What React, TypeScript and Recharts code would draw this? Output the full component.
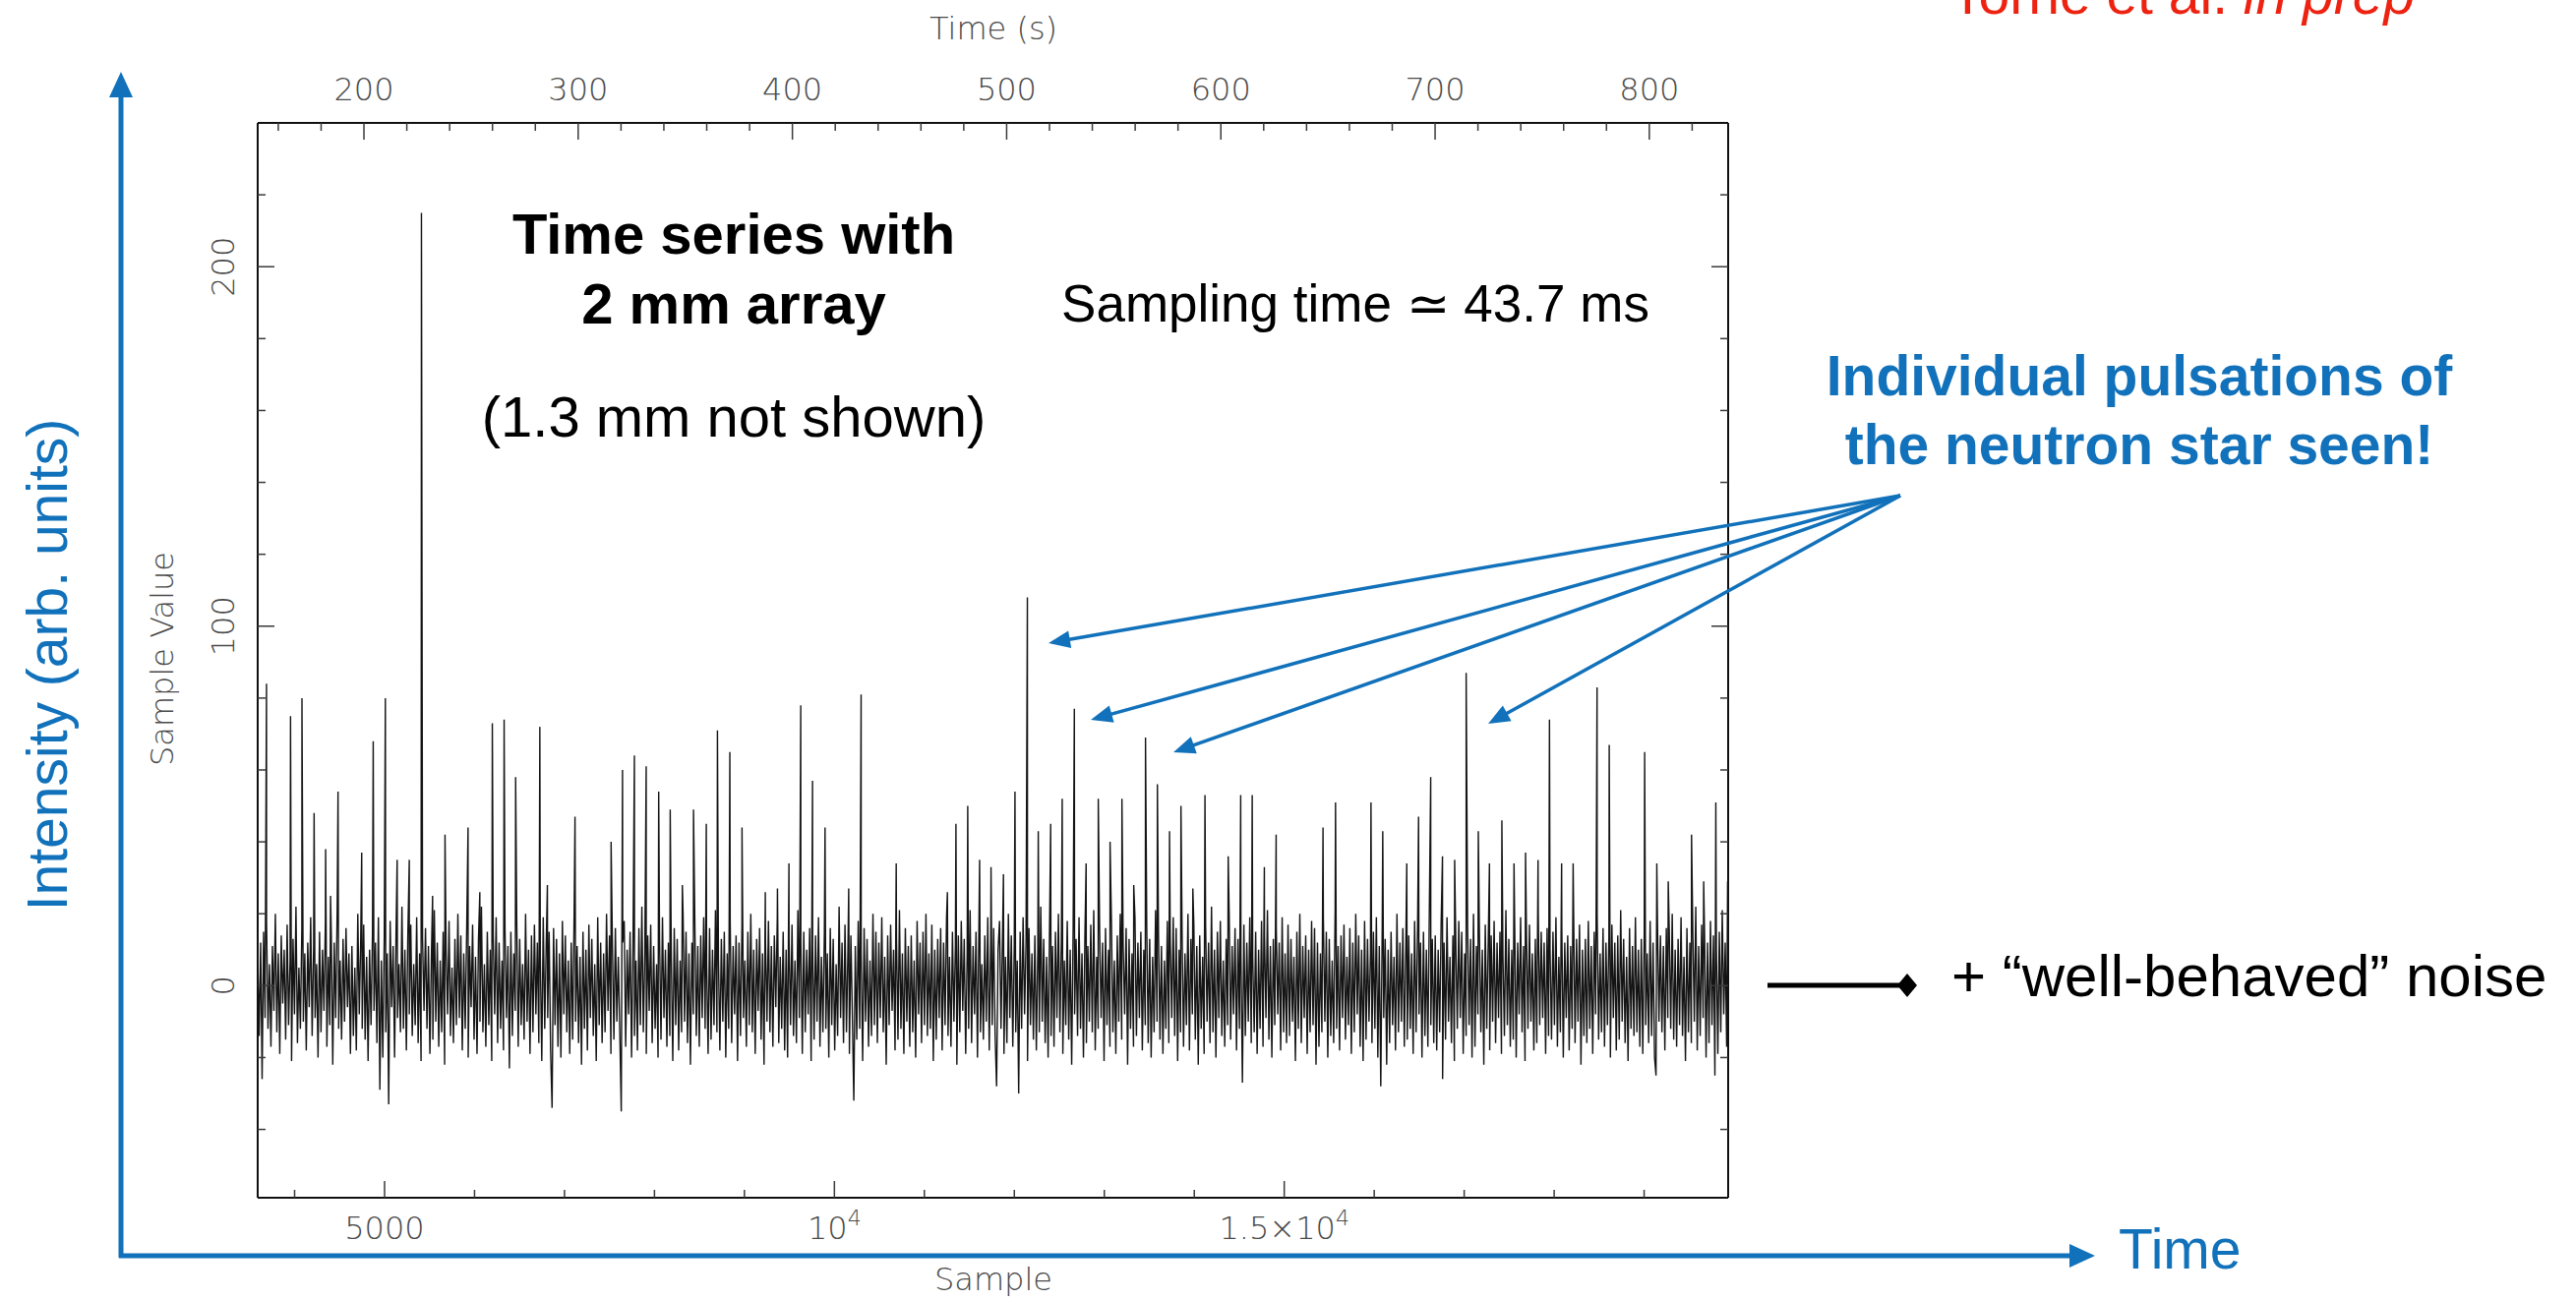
import React from 'react'
import { ComposedChart, Line, XAxis, YAxis } from 'recharts'

const WIDTH = 2619
const HEIGHT = 1322

const SAMPLE_DOMAIN: [number, number] = [3590, 19934]
const TIME_DOMAIN: [number, number] = [150.4, 836.8]
const VALUE_DOMAIN: [number, number] = [-59, 240]

const sampleTicks = [4000, 5000, 6000, 7000, 8000, 9000, 10000, 11000, 12000, 13000, 14000, 15000, 16000, 17000, 18000, 19000]
const sampleLabels: Record<number, [string, string]> = {
  5000: ['5000', ''],
  10000: ['10', '4'],
  15000: ['1.5×10', '4'],
}
const timeTicks = [160, 180, 200, 220, 240, 260, 280, 300, 320, 340, 360, 380, 400, 420, 440, 460, 480, 500, 520, 540, 560, 580, 600, 620, 640, 660, 680, 700, 720, 740, 760, 780, 800, 820]
const timeMajor = [200, 300, 400, 500, 600, 700, 800]
const valueTicks = [-40, -20, 0, 20, 40, 60, 80, 100, 120, 140, 160, 180, 200, 220]
const valueMajor = [0, 100, 200]

// bright single-sample pulses riding on the noise
const spikeSamples = [
  3688, 3955, 4082, 4217, 4345, 4400, 4483, 4746, 4874, 5009, 5140, 5275, 5410, 5534, 5672, 5928, 6059, 6198, 6329, 6457,
  6726, 6810, 7117, 7518, 7645, 7777, 7908, 8047, 8175, 8310, 8434, 8576, 8700, 8838, 8973, 9232, 9367, 9495, 9626, 9757,
  9896, 10159, 10297, 10687, 11256, 11351, 11482, 11614, 11741, 11879, 12007, 12145, 12266, 12404, 12532, 12667, 12798, 12933, 13064, 13196,
  13327, 13458, 13590, 13725, 13852, 13984, 14119, 14377, 14516, 14644, 14779, 14910, 15431, 15570, 15964, 16095, 16362, 16493, 16628, 16759,
  16894, 17022, 17157, 17281, 17419, 17554, 17682, 17821, 17948, 18083, 18211, 18477, 18612, 19006, 19141, 19268, 19527, 19662, 19797, 19928,
]
const spikeValues = [
  84, 75, 80, 48, 38, 25, 54, 37, 68, 80, 35, 35, 215, 25, 42, 44, 26, 73, 74, 58,
  72, 28, 47, 40, 60, 64, 61, 54, 49, 28, 49, 45, 71, 65, 44, 26, 27, 34, 78, 57,
  44, 27, 81, 34, 26, 45, 50, 35, 33, 31, 54, 108, 43, 45, 52, 77, 34, 52, 40, 52,
  28, 69, 56, 43, 50, 27, 53, 36, 53, 53, 33, 42, 44, 51, 51, 43, 34, 47, 58, 36,
  35, 87, 43, 34, 46, 34, 37, 35, 74, 34, 34, 83, 67, 65, 34, 29, 42, 29, 51, 29,
]

// receiver noise, evenly spaced across the sample range
const noise = [
  8, -14, 12, -26, 15, -9, 18, -12, 6, -17, 11, -7, 20, -13, 9, -19, 14, -5, 10, -15,
  17, -11, 7, -21, 13, -8, 22, -16, 5, -12, 16, -10, 9, -18, 12, -6, 19, -14, 11, -9,
  6, -20, 15, -13, 10, -7, 18, -17, 8, -11, 14, -22, 12, -9, 21, -12, 7, -15, 13, -10,
  16, -6, 9, -19, 11, -14, 5, -18, 20, -8, 13, -12, 17, -15, 8, -21, 10, -11, 15, -7,
  12, -16, 19, -29, 7, -20, 14, -13, 9, -33, 18, -6, 11, -20, 15, -9, 6, -13, 22, -12,
  10, -18, 14, -8, 17, -14, 6, -11, 19, -16, 9, -21, 13, -7, 16, -12, 11, -19, 8, -15,
  21, -10, 12, -17, 7, -13, 15, -22, 10, -8, 18, -14, 5, -16, 13, -11, 20, -9, 14, -18,
  9, -12, 16, -20, 11, -6, 17, -15, 8, -19, 13, -10, 22, -13, 6, -17, 15, -11, 10, -21,
  14, -8, 19, -16, 12, -12, 7, -18, 16, -9, 11, -23, 15, -14, 9, -7, 18, -17, 13, -11,
  6, -15, 20, -10, 10, -19, 14, -13, 17, -8, 12, -16, 8, -21, 19, -12, 11, -9, 15, -18,
  -34, 16, -11, 13, -17, 9, -20, 18, -8, 14, -13, 7, -19, 12, -15, 21, -10, 11, -16, 8,
  -22, 15, -12, 10, -18, 17, -9, 13, -14, 6, -21, 19, -11, 12, -16, 9, -13, 20, -7, 14,
  -19, 11, -15, 16, -10, 8, -13, -35, 12, 18, -17, 10, -8, 15, -20, 12, -14, 7, -18, 16,
  -11, 22, -13, 9, -19, 14, -7, 17, -16, 11, -12, 6, -20, 13, -15, 19, -9, 10, -17, 12,
  -14, 8, -21, 16, -11, 13, -18, 7, -13, 20, -10, 15, -16, 9, -22, 12, -8, 17, -14, 11,
  -17, 14, -9, 19, -12, 6, -19, 16, -15, 10, -11, 21, -13, 8, -18, 13, -10, 15, -20, 9,
  -12, 18, -16, 11, -8, 14, -21, 12, -14, 17, -9, 7, -17, 15, -11, 20, -13, 10, -19, 13,
  -7, 16, -15, 9, -22, 12, -10, 18, -13, 11, -17, 14, -6, 19, -16, 8, -12, 15, -18, 10,
  -20, 13, -11, 17, -14, 7, -16, 21, -9, 12, -19, 15, -13, 10, -8, 16, -21, 11, -15, 14,
  -10, 19, -17, 8, -13, 15, -12, 9, -20, 16, -11, 13, -18, 6, -14, 22, -9, 12, -16, 17,
  -13, 10, -19, 14, -8, -32, 11, -15, 18, -12, 9, -21, 16, -10, 13, -17, 7, -14, 20, -11,
  15, -16, 12, -9, 19, -13, 8, -22, 14, -11, 17, -7, 10, -18, 13, -15, 21, -12, 9, -19,
  16, -10, 11, -17, 14, -13, 7, -20, 18, -8, 12, -16, 15, -11, 20, -14, 9, -12, 17, -21,
  10, -15, 13, -9, 16, -18, 12, -11, 19, -14, 8, -17, 15, -10, 11, -22, 14, -13, 18, -7,
  13, -19, 9, -12, 21, -16, 11, -8, 15, -20, 17, -13, 6, -15, 14, -10, 19, -18, 12, -11,
  16, -14, -28, 10, 18, -12, 13, -19, 8, -16, 20, -9, 14, -17, 11, -13, 7, -30, 15, -12,
  19, -8, 12, -21, 16, -11, 9, -15, 14, -18, 10, -13, 22, -10, 13, -16, 8, -20, 17, -14,
  11, -17, 15, -9, 20, -13, 12, -19, 7, -11, 18, -15, 10, -22, 16, -8, 13, -14, 19, -12,
  9, -20, 14, -16, 11, -10, 17, -13, 21, -18, 8, -12, 15, -9, 12, -21, 16, -11, 10, -17,
  18, -13, 7, -19, 14, -10, 20, -15, 11, -8, 16, -22, 13, -12, 9, -17, 19, -14, 12, -9,
  15, -18, 10, -11, 17, -16, 13, -20, 8, -13, 21, -10, 14, -15, 11, -19, 7, -12, 18, -16,
  12, -9, 19, -14, 16, -21, 10, -13, 15, -17, 9, -11, 20, -18, 13, -8, 17, -15, 11, -22,
  14, -12, 8, -19, 17, -10, 12, -16, 22, -13, 10, -20, 15, -9, 18, -14, 7, -17, 13, -11,
  20, -15, 11, -8, 16, -18, 13, -12, 9, -27, 17, -14, 12, -10, 19, -16, 8, -13, 15, -19,
  10, -12, 18, -17, 14, -9, 21, -15, 11, -20, 13, -11, 16, -8, 12, -18, 19, -13, 9, -16,
  17, -14, 13, -10, 8, -21, 15, -12, 20, -16, 11, -9, 14, -19, 10, -13, 18, -11, 16, -22,
  12, -17, 9, -13, 19, -10, 15, -20, 13, -14, 7, -16, 21, -12, 11, -18, 14, -9, 17, -15,
  8, -11, 16, -19, 12, -13, 20, -8, 14, -17, 10, -21, 18, -15, 13, -10, 9, -16, 15, -12,
  19, -20, 11, -28, 17, -9, 13, -22, 10, -16, 15, -11, 8, -18, 20, -13, 12, -10, 16, -17,
  11, -15, 14, -12, 9, -19, 18, -13, 16, -8, 12, -20, 15, -14, 10, -17, 21, -11, 13, -16,
  14, -18, 10, -13, 17, -26, 12, -15, 19, -10, 8, -16, 14, -21, 11, -12, 18, -9, 15, -19,
  9, -14, 16, -11, 13, -20, 20, -17, 11, -8, 15, -13, 10, -22, 17, -12, 12, -18, 14, -10,
  18, -16, 12, -9, 15, -19, 8, -14, 21, -11, 13, -17, 10, -15, 16, -20, 12, -8, 19, -13,
  11, -21, 14, -12, 17, -10, 9, -18, 13, -16, 20, -11, 15, -9, 12, -19, 16, -14, 10, -15,
  15, -11, 19, -17, 8, -13, 16, -20, 12, -9, 14, -18, 11, -12, 21, -16, 13, -10, 17, -22,
  10, -14, 13, -16, 18, -12, 11, -19, 15, -8, 20, -15, 9, -13, 16, -17, 12, -11, 14, -20,
  17, -9, 12, -18, 14, -15, 21, -10, 13, -16, 8, -21, 16, -12, 11, -14, 19, -13, 10, -17,
  13, -19, 15, -11, 9, -16, 18, -14, 12, -20, -25, 17, -10, 14, -13, 11, -18, 16, -9, 15,
  -12, 20, -15, 10, -17, 13, -11, 19, -14, 8, -21, 16, -13, 12, -16, 15, -10, 22, -18, 11,
  -14, 17, -9, 13, -20, 12, -16, 18, -11, 14, -25, 10, -19, 15, -13, 21, -8, 12, -17, 14,
]

// seconds per sample implied by the two axis ranges
const secondsPerSample = (TIME_DOMAIN[1] - TIME_DOMAIN[0]) / (SAMPLE_DOMAIN[1] - SAMPLE_DOMAIN[0])
const toTime = (sample: number) => TIME_DOMAIN[0] + (sample - SAMPLE_DOMAIN[0]) * secondsPerSample

const noiseStep = (SAMPLE_DOMAIN[1] - SAMPLE_DOMAIN[0]) / (noise.length - 1)
const series = [
  ...noise.map((value, i) => ({ sample: SAMPLE_DOMAIN[0] + i * noiseStep, value })),
  ...spikeSamples.map((sample, i) => ({ sample, value: spikeValues[i] })),
]
  .sort((a, b) => a.sample - b.sample)
  .map((d) => ({ ...d, time: toTime(d.sample) }))

const BLUE = '#1171BA'
const RED = '#EE2211'
const AXIS_FONT = "'DejaVu Sans', sans-serif"
const TEXT_FONT = "'Liberation Sans', Arial, sans-serif"
const TICK_COLOR = '#3a3a3a'
const FRAME = { stroke: '#111', strokeWidth: 2 }

const labelStyle = { fontFamily: AXIS_FONT, fontWeight: 200, fontSize: 32, fill: '#4a4a4a' }

function BottomTick({ x, y, payload }: any) {
  const label = sampleLabels[payload.value]
  return (
    <g>
      <line x1={x} x2={x} y1={y} y2={y - (label ? 17 : 8)} stroke={TICK_COLOR} strokeWidth={1.5} />
      {label && (
        <text x={x} y={y + 42} textAnchor="middle" {...labelStyle}>
          {label[0]}
          {label[1] && <tspan dy={-14} fontSize={22}>{label[1]}</tspan>}
        </text>
      )}
    </g>
  )
}

function TopTick({ x, y, payload }: any) {
  const major = timeMajor.includes(payload.value)
  return (
    <g>
      <line x1={x} x2={x} y1={y} y2={y + (major ? 17 : 8)} stroke={TICK_COLOR} strokeWidth={1.5} />
      {major && (
        <text x={x} y={y - 23} textAnchor="middle" {...labelStyle}>{payload.value}</text>
      )}
    </g>
  )
}

function LeftTick({ x, y, payload }: any) {
  const major = valueMajor.includes(payload.value)
  return (
    <g>
      <line x1={x} x2={x + (major ? 17 : 8)} y1={y} y2={y} stroke={TICK_COLOR} strokeWidth={1.5} />
      {major && (
        <text x={x - 24} y={y} textAnchor="middle" transform={`rotate(-90 ${x - 24} ${y})`} {...labelStyle}>
          {payload.value}
        </text>
      )}
    </g>
  )
}

function RightTick({ x, y, payload }: any) {
  const major = valueMajor.includes(payload.value)
  return <line x1={x} x2={x - (major ? 17 : 8)} y1={y} y2={y} stroke={TICK_COLOR} strokeWidth={1.5} />
}

function Arrow({ from, to, color, width, head, half }: { from: [number, number]; to: [number, number]; color: string; width: number; head: number; half: number }) {
  const dx = to[0] - from[0]
  const dy = to[1] - from[1]
  const len = Math.hypot(dx, dy)
  const ux = dx / len
  const uy = dy / len
  const bx = to[0] - ux * head
  const by = to[1] - uy * head
  const pts = `${to[0]},${to[1]} ${bx - uy * half},${by + ux * half} ${bx + uy * half},${by - ux * half}`
  return (
    <g>
      <line x1={from[0]} y1={from[1]} x2={bx + ux * 2} y2={by + uy * 2} stroke={color} strokeWidth={width} />
      <polygon points={pts} fill={color} />
    </g>
  )
}

const pulseArrowTips: [number, number][] = [[1066, 654], [1109, 732], [1193, 765], [1513, 736]]

function Annotations() {
  return (
    <svg width={WIDTH} height={HEIGHT} style={{ position: 'absolute', left: 0, top: 0, pointerEvents: 'none' }}>
      <text x={1983} y={14} fontFamily={TEXT_FONT} fontSize={57} fill={RED}>
        Torne et al. <tspan fontStyle="italic">in prep</tspan>
      </text>

      {/* big intensity / time axes */}
      <Arrow from={[123, 1279]} to={[123, 73]} color={BLUE} width={5} head={26} half={12} />
      <Arrow from={[121, 1277]} to={[2130, 1277]} color={BLUE} width={5} head={26} half={12} />
      <text x={2154} y={1290} fontFamily={TEXT_FONT} fontSize={57} fill={BLUE}>Time</text>
      <text x={68} y={676} textAnchor="middle" transform="rotate(-90 68 676)" fontFamily={TEXT_FONT} fontSize={57} fill={BLUE}>
        Intensity (arb. units)
      </text>

      {/* axis titles */}
      <text x={1010} y={40} textAnchor="middle" {...labelStyle}>Time (s)</text>
      <text x={1010} y={1312} textAnchor="middle" {...labelStyle}>Sample</text>
      <text x={176} y={670} textAnchor="middle" transform="rotate(-90 176 670)" {...labelStyle}>Sample Value</text>

      {/* in-plot notes */}
      <text x={746} y={258} textAnchor="middle" fontFamily={TEXT_FONT} fontWeight={700} fontSize={58} fill="#000">Time series with</text>
      <text x={746} y={329} textAnchor="middle" fontFamily={TEXT_FONT} fontWeight={700} fontSize={58} fill="#000">2 mm array</text>
      <text x={746} y={444} textAnchor="middle" fontFamily={TEXT_FONT} fontSize={58} fill="#000">(1.3 mm not shown)</text>
      <text x={1378} y={327} textAnchor="middle" fontFamily={TEXT_FONT} fontSize={53} fill="#000">Sampling time ≃ 43.7 ms</text>

      <text x={2175} y={402} textAnchor="middle" fontFamily={TEXT_FONT} fontWeight={700} fontSize={57} fill={BLUE}>Individual pulsations of</text>
      <text x={2175} y={472} textAnchor="middle" fontFamily={TEXT_FONT} fontWeight={700} fontSize={57} fill={BLUE}>the neutron star seen!</text>
      {pulseArrowTips.map((tip, i) => (
        <Arrow key={i} from={[1932, 504]} to={tip} color={BLUE} width={3.5} head={22} half={9} />
      ))}

      <line x1={1797} x2={1932} y1={1002} y2={1002} stroke="#000" strokeWidth={5} />
      <polygon points="1929,1002 1939,990 1949,1002 1939,1014" fill="#000" />
      <text x={1984} y={1013} fontFamily={TEXT_FONT} fontSize={60} fill="#000">+ “well-behaved” noise</text>
    </svg>
  )
}

export default function App() {
  return (
    <div style={{ position: 'absolute', left: 0, top: 0, width: WIDTH, height: HEIGHT, background: '#fff' }}>
      <ComposedChart
        width={WIDTH}
        height={HEIGHT}
        data={series}
        margin={{ top: 65, right: 852, bottom: 44, left: 142 }}
      >
        <XAxis
          xAxisId="sample"
          dataKey="sample"
          type="number"
          orientation="bottom"
          domain={SAMPLE_DOMAIN}
          allowDataOverflow
          ticks={sampleTicks}
          interval={0}
          tick={BottomTick}
          tickLine={false}
          tickSize={0}
          tickMargin={0}
          axisLine={FRAME}
          height={60}
        />
        <XAxis
          xAxisId="time"
          dataKey="time"
          type="number"
          orientation="top"
          domain={TIME_DOMAIN}
          allowDataOverflow
          ticks={timeTicks}
          interval={0}
          tick={TopTick}
          tickLine={false}
          tickSize={0}
          tickMargin={0}
          axisLine={FRAME}
          height={60}
        />
        <YAxis
          yAxisId="left"
          type="number"
          domain={VALUE_DOMAIN}
          allowDataOverflow
          ticks={valueTicks}
          interval={0}
          tick={LeftTick}
          tickLine={false}
          tickSize={0}
          tickMargin={0}
          axisLine={FRAME}
          width={120}
        />
        <YAxis
          yAxisId="right"
          type="number"
          orientation="right"
          domain={VALUE_DOMAIN}
          allowDataOverflow
          ticks={valueTicks}
          interval={0}
          tick={RightTick}
          tickLine={false}
          tickSize={0}
          tickMargin={0}
          axisLine={FRAME}
          width={10}
        />
        {/* same trace on the time/right axes, unstroked, so those scales carry data */}
        <Line
          xAxisId="time"
          yAxisId="right"
          dataKey="value"
          type="linear"
          stroke="none"
          dot={false}
          activeDot={false}
          isAnimationActive={false}
        />
        <Line
          xAxisId="sample"
          yAxisId="left"
          dataKey="value"
          type="linear"
          stroke="#141414"
          strokeWidth={1.4}
          dot={false}
          activeDot={false}
          isAnimationActive={false}
        />
      </ComposedChart>
      <Annotations />
    </div>
  )
}
